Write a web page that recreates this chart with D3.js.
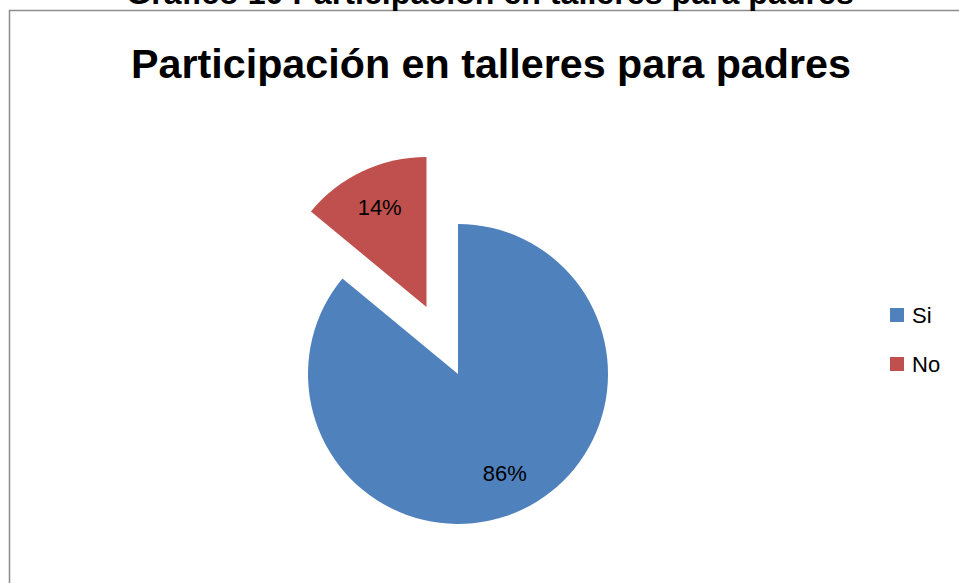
<!DOCTYPE html>
<html><head><meta charset="utf-8">
<script src="https://cdn.jsdelivr.net/npm/d3@7"></script>
<style>html,body{margin:0;padding:0;background:#fff;}svg{display:block;}</style>
</head><body>
<svg id="c" width="959" height="583"></svg>
<script>
const categories = ["Si", "No"];
const values = [86, 14];
const colors = ["#4F81BD", "#C0504D"];
const chartTitle = "Participación en talleres para padres";
const captionTitle = "Gráfico 10 Participación en talleres para padres";

const svg = d3.select("#c");
const font = "'Liberation Sans', Arial, sans-serif";

// outer frame (extends past the picture on the right/bottom)
svg.append("rect").attr("x", 9.5).attr("y", 10.5).attr("width", 1000).attr("height", 1000)
  .attr("fill", "#fff").attr("stroke", "#8c8c8c").attr("stroke-width", 1.5);

function fitText(sel, w) {
  let fs = parseFloat(sel.attr("font-size"));
  const len = sel.node().getComputedTextLength();
  sel.attr("font-size", fs * w / len);
}
// caption title, partly cut off at the top as in the source
const cap = svg.append("text").attr("x", 490).attr("y", 4).attr("text-anchor", "middle")
  .attr("font-family", font).attr("font-weight", "bold").attr("font-size", 22).attr("fill", "#000")
  .text(captionTitle);
fitText(cap, 728);

const t = svg.append("text").attr("x", 491).attr("y", 78).attr("text-anchor", "middle")
  .attr("font-family", font).attr("font-weight", "bold").attr("font-size", 36).attr("fill", "#000")
  .text(chartTitle);
fitText(t, 720);

const cx = 458, cy = 374, r = 150, explode = 74;
const pie = d3.pie().sort(null).value(d => d.v).startAngle(0).endAngle(2 * Math.PI);
const data = pie(categories.map((c, i) => ({c, v: values[i], col: colors[i]})));
const arc = d3.arc().innerRadius(0).outerRadius(r);
const labelArc = d3.arc().innerRadius(220).outerRadius(0);

const g = svg.append("g").attr("transform", `translate(${cx},${cy})`);
const slices = g.selectAll("g.s").data(data).join("g").attr("class", "s")
  .attr("transform", (d, i) => {
    if (i === 1) {
      const a = (d.startAngle + d.endAngle) / 2;
      return `translate(${explode * Math.sin(a)},${-explode * Math.cos(a)})`;
    }
    return null;
  });
slices.append("path").attr("d", arc).attr("fill", d => d.data.col);
slices.append("text")
  .attr("transform", d => `translate(${labelArc.centroid(d)})`)
  .attr("text-anchor", "middle").attr("dy", "0.35em")
  .attr("font-family", font).attr("font-size", 22).attr("fill", "#000")
  .text(d => d.data.v + "%");

// legend
const lg = svg.append("g").attr("transform", "translate(890,308)");
const items = lg.selectAll("g").data(categories).join("g").attr("transform", (d, i) => `translate(0,${i * 49})`);
items.append("rect").attr("width", 14).attr("height", 14).attr("fill", (d, i) => colors[i]);
items.append("text").attr("x", 22).attr("y", 15).attr("font-family", font).attr("font-size", 22).attr("fill", "#000").text(d => d);
</script>
</body></html>
